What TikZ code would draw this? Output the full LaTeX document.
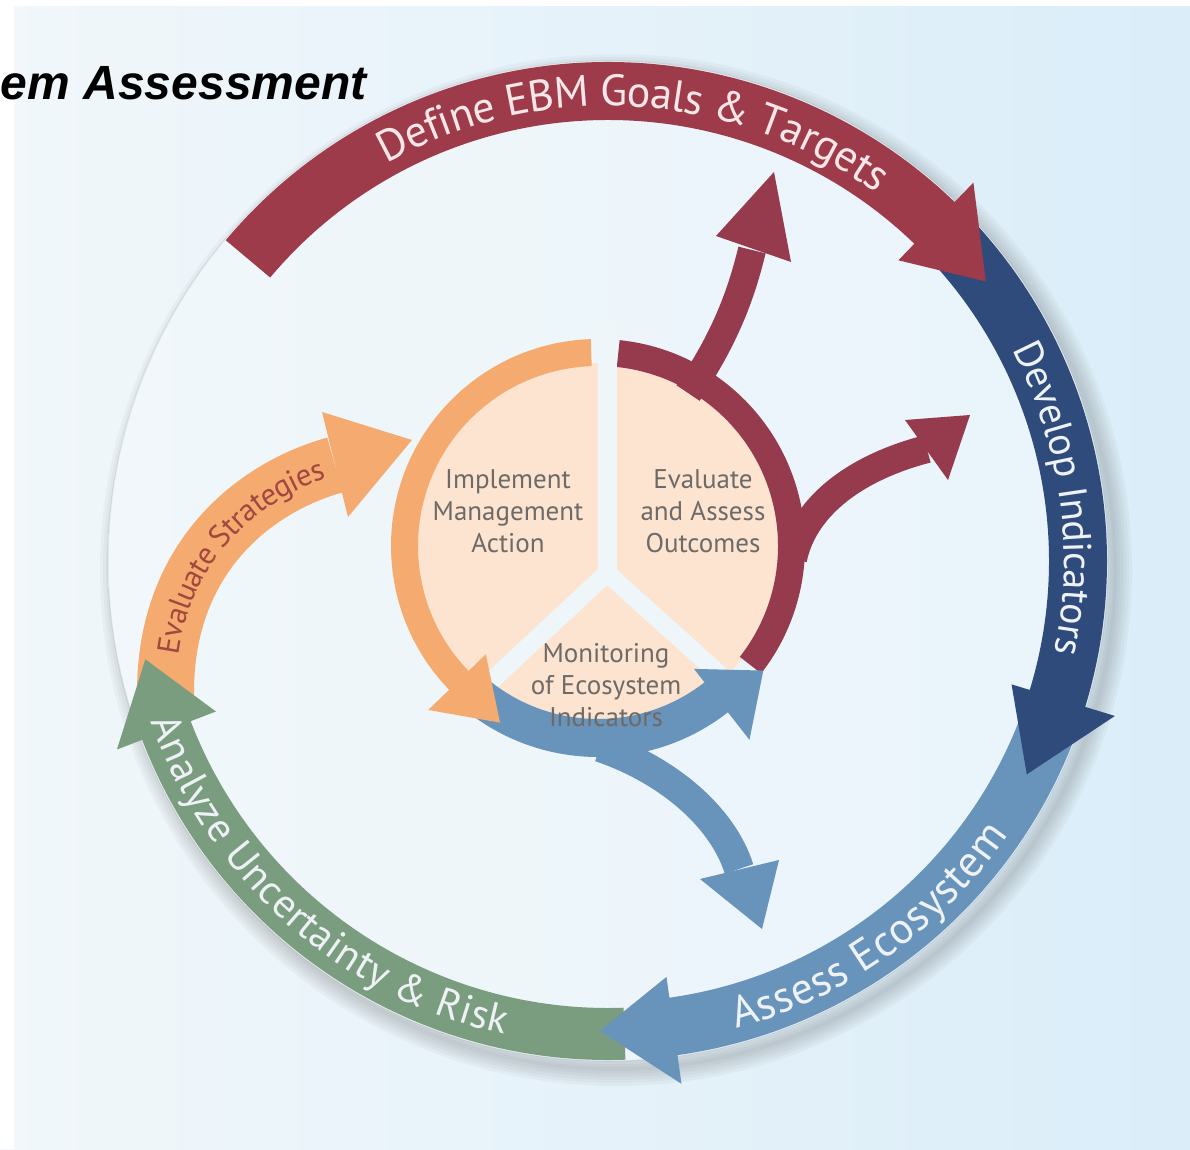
\documentclass[tikz,border=0pt]{standalone}
\usepackage{fontspec}
\setmainfont{PT Sans}
\newfontfamily\titlefont{Liberation Sans}
\usetikzlibrary{decorations.text}

\definecolor{bgL}{HTML}{F1F7FA}
\definecolor{bgR}{HTML}{DAEDF9}
\definecolor{discL}{HTML}{F1F7FA}
\definecolor{discR}{HTML}{E9F4FB}
\definecolor{defred}{HTML}{9E3B4A}
\definecolor{navy}{HTML}{2F4B7C}
\definecolor{steel}{HTML}{6893BA}
\definecolor{sage}{HTML}{7B9D7F}
\definecolor{apricot}{HTML}{F5AB70}
\definecolor{wine}{HTML}{963A4E}
\definecolor{peach}{HTML}{FCE4D0}
\definecolor{gapcol}{HTML}{EEF6FA}
\definecolor{pietext}{HTML}{6E6A67}
\definecolor{stratext}{HTML}{A2473F}
\definecolor{deftext}{HTML}{F8E6E8}
\definecolor{lighttext}{HTML}{EEF2F6}

\newcommand{\fsz}[1]{\fontsize{#1pt}{#1pt}\selectfont}
% annular band ending in an arrowhead:
% colour, start angle, head-base angle, tip angle, r in, r out, head in, head out, tip radius
\newcommand{\ringband}[9]{%
  \fill[#1] (#2:#6) arc[start angle=#2, end angle=#3, radius=#6]
    -- (#3:#8) -- (#4:#9) -- (#3:#7) -- (#3:#5)
    arc[start angle=#3, end angle=#2, radius=#5] -- cycle;}

\begin{document}
\begin{tikzpicture}[x=1pt,y=1pt,
  bandlabel/.style 2 args={decorate, decoration={text along path,
      text align=center, raise=#1, text={#2}}},
  pielabel/.style={align=center, text=pietext,
      font=\fontsize{27pt}{32pt}\selectfont, inner sep=0pt}]
\useasboundingbox (0,0) rectangle (1190,1149);

% backdrop
\shade[left color=bgL, right color=bgR] (0,0) rectangle (1190,1149);
\fill[white] (0,1143) rectangle (1190,1149);
\fill[white] (0,0) rectangle (14,1149);

\coordinate (C) at (608,588);
\coordinate (Ci) at (598,603);

% soft shadow of the outer ring
\begin{scope}[shift={(616,579)}]
  \foreach \w in {4,10,16,22,28,34}
    \draw[black!70, opacity=0.045, line width=\w] (0,0) circle (499);
\end{scope}
% pale disc carrying the cycle
\shade[left color=discL, right color=discR] (C) circle (500);
\draw[black, opacity=0.06, line width=1.5] (C) circle (500);

% title
\node[anchor=base east, font=\titlefont\bfseries\itshape\fsz{48}] (title) at (370,1049) {em Assessment};

% ---------- outer cycle ----------
% Evaluate Strategies (orange) leading into the inner circle
\draw[apricot, line width=57] (166,440) .. controls (158,589) and (255,662) .. (335,684);
\fill[apricot] (322,737) -- (412,709) -- (348,632) -- cycle;
\path[decorate, decoration={text along path, raise=-10.5pt,
      text align={right, right indent=12pt},
      text={|\fsz{31}\color{stratext}|Evaluate Strategies}}]
  (166,440) .. controls (158,589) and (255,662) .. (335,684);

\begin{scope}[shift={(C)}]
  \ringband{sage}{272}{201}{192}{447}{499}{420}{526}{473}
  \ringband{steel}{-18}{-82}{-91}{441}{499}{420}{528}{470}
  \ringband{navy}{44}{-17}{-27}{441}{499}{422}{530}{470}
  \ringband{defred}{140}{46}{36.5}{441}{499}{418}{526}{470}

  \path[bandlabel={-15pt}{|\fsz{44}\color{deftext}|Define EBM Goals {\&} Targets}]
    (131:470) arc[start angle=131, end angle=42, radius=470];
  \path[bandlabel={-14pt}{|\fsz{40}\color{lighttext}|Develop Indicators}]
    (38:470) arc[start angle=38, end angle=-22, radius=470];
  \path[bandlabel={-15pt}{|\fsz{44}\color{lighttext}|Assess Ecosystem}]
    (-88:470) arc[start angle=-88, end angle=-21, radius=470];
  \path[bandlabel={-14.5pt}{|\fsz{41}\color{lighttext}|Analyze Uncertainty {\&} Risk}]
    (189:470) arc[start angle=189, end angle=268, radius=470];
\end{scope}

% ---------- inner circle ----------
\fill[peach] (Ci) circle (183);
% white spokes between the three sectors
\draw[gapcol, line width=18] (607,576) -- ++(223:200);
\draw[gapcol, line width=18] (607,576) -- ++(318:200);

\begin{scope}[shift={(Ci)}]
  % Evaluate and Assess Outcomes (wine)
  \fill[wine] (84:207) arc[start angle=84, end angle=-38, radius=207]
    -- (-38:180) arc[start angle=-38, end angle=84, radius=180] -- cycle;
\end{scope}
% wine branches leaving the circle
\draw[wine, line width=28] (688,756) .. controls (722,806) and (740,849) .. (752,899);
\fill[wine] (716,913) -- (774,977) -- (791,887) -- cycle;
\draw[wine, line width=28] (793,590) .. controls (803,639) and (850,680) .. (927,700);
\fill[wine] (905,729) -- (970,734) -- (948,669) -- cycle;

\begin{scope}[shift={(Ci)}]
  % Monitoring of Ecosystem Indicators (blue)
  \ringband{steel}{232}{308}{323}{173}{211}{156}{246}{207}
\end{scope}
% blue branch towards Assess Ecosystem
\draw[steel, line width=30] (600,402) .. controls (665,380) and (722,334) .. (739,280);
\fill[steel] (700,270) -- (762,220) -- (779,289) -- cycle;

\begin{scope}[shift={(Ci)}]
  % Implement Management Action (orange)
  \ringband{apricot}{92}{224}{241}{180}{207}{156}{236}{202}
\end{scope}
% upper spoke cuts the ring into two halves
\draw[gapcol, line width=19] (607,576) -- (607,830);

% sector labels
\node[pielabel] (implement) at (508,638) {Implement\\Management\\Action};
\node[pielabel] (evaluate) at (703,638) {Evaluate\\and Assess\\Outcomes};
\node[pielabel] (monitor) at (606,464) {Monitoring\\of Ecosystem\\Indicators};
\end{tikzpicture}
\end{document}
